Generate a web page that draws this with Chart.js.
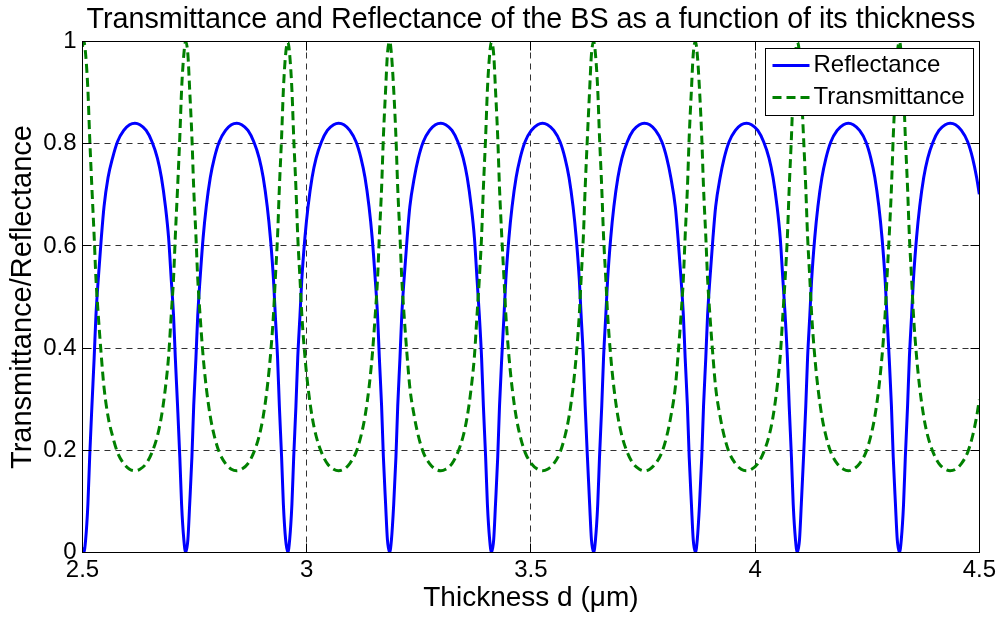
<!DOCTYPE html>
<html>
<head>
<meta charset="utf-8">
<script src="https://cdn.jsdelivr.net/npm/chart.js@4/dist/chart.umd.min.js"></script>
<style>
html,body{margin:0;padding:0;background:#fff;}
#wrap{width:999px;height:617px;}
</style>
</head>
<body>
<div id="wrap"><canvas id="c" width="999" height="617"></canvas></div>
<script>
const chartTitle = 'Transmittance and Reflectance of the BS as a function of its thickness';
const xLabel = 'Thickness d (\u03bcm)';
const yLabel = 'Transmittance/Reflectance';
const seriesNames = ['Reflectance', 'Transmittance'];
const xTicks = [2.5, 3, 3.5, 4, 4.5];
const yTicks = [0, 0.2, 0.4, 0.6, 0.8, 1];

const thickness = [
2.500,
2.503, 2.507, 2.512, 2.516, 2.521, 2.526, 2.530, 2.535, 2.542, 2.548, 2.557, 2.567, 2.578, 2.592, 2.605, 2.617, 2.628, 2.642, 2.655, 2.667, 2.676, 2.685, 2.692, 2.698, 2.703, 2.707, 2.712, 2.717, 2.721, 2.726,
2.730, 2.735, 2.739, 2.744, 2.748, 2.753, 2.757, 2.762, 2.769, 2.776, 2.785, 2.794, 2.805, 2.819, 2.832, 2.844, 2.855, 2.869, 2.882, 2.894, 2.903, 2.912, 2.919, 2.926, 2.930, 2.935, 2.939, 2.944, 2.948, 2.953,
2.958, 2.962, 2.967, 2.971, 2.976, 2.980, 2.985, 2.989, 2.996, 3.003, 3.012, 3.021, 3.033, 3.046, 3.060, 3.071, 3.083, 3.096, 3.110, 3.121, 3.130, 3.139, 3.146, 3.153, 3.158, 3.162, 3.167, 3.171, 3.176, 3.180,
3.185, 3.189, 3.194, 3.199, 3.203, 3.208, 3.212, 3.217, 3.224, 3.230, 3.240, 3.249, 3.260, 3.274, 3.287, 3.299, 3.310, 3.324, 3.337, 3.349, 3.358, 3.367, 3.374, 3.380, 3.385, 3.390, 3.394, 3.399, 3.403, 3.408,
3.412, 3.417, 3.421, 3.426, 3.430, 3.435, 3.440, 3.444, 3.451, 3.458, 3.467, 3.476, 3.487, 3.501, 3.515, 3.526, 3.537, 3.551, 3.565, 3.576, 3.585, 3.594, 3.601, 3.608, 3.612, 3.617, 3.621, 3.626, 3.631, 3.635,
3.640, 3.644, 3.649, 3.653, 3.658, 3.662, 3.667, 3.671, 3.678, 3.685, 3.694, 3.703, 3.715, 3.728, 3.742, 3.753, 3.765, 3.778, 3.792, 3.803, 3.812, 3.822, 3.828, 3.835, 3.840, 3.844, 3.849, 3.853, 3.858, 3.862,
3.867, 3.871, 3.876, 3.881, 3.885, 3.890, 3.894, 3.899, 3.906, 3.912, 3.922, 3.931, 3.942, 3.956, 3.969, 3.981, 3.992, 4.006, 4.019, 4.031, 4.040, 4.049, 4.056, 4.062, 4.067, 4.072, 4.076, 4.081, 4.085, 4.090,
4.094, 4.099, 4.103, 4.108, 4.113, 4.117, 4.122, 4.126, 4.133, 4.140, 4.149, 4.158, 4.169, 4.183, 4.197, 4.208, 4.219, 4.233, 4.247, 4.258, 4.267, 4.276, 4.283, 4.290, 4.294, 4.299, 4.304, 4.308, 4.313, 4.317,
4.322, 4.326, 4.331, 4.335, 4.340, 4.344, 4.349, 4.353, 4.360, 4.367, 4.376, 4.385, 4.397, 4.410, 4.424, 4.435, 4.447, 4.460, 4.474, 4.485, 4.494, 4.500
];

const reflectance = [
0.010,
0.000, 0.025, 0.094, 0.187, 0.287, 0.381, 0.464, 0.533, 0.616, 0.677, 0.734, 0.772, 0.804, 0.826, 0.837, 0.840, 0.837, 0.826, 0.804, 0.772, 0.734, 0.677, 0.616, 0.533, 0.464, 0.381, 0.287, 0.187, 0.094, 0.025,
0.000, 0.025, 0.094, 0.187, 0.287, 0.381, 0.464, 0.533, 0.616, 0.677, 0.734, 0.772, 0.804, 0.826, 0.837, 0.840, 0.837, 0.826, 0.804, 0.772, 0.734, 0.677, 0.616, 0.533, 0.464, 0.381, 0.287, 0.187, 0.094, 0.025,
0.000, 0.025, 0.094, 0.187, 0.287, 0.381, 0.464, 0.533, 0.616, 0.677, 0.734, 0.772, 0.804, 0.826, 0.837, 0.840, 0.837, 0.826, 0.804, 0.772, 0.734, 0.677, 0.616, 0.533, 0.464, 0.381, 0.287, 0.187, 0.094, 0.025,
0.000, 0.025, 0.094, 0.187, 0.287, 0.381, 0.464, 0.533, 0.616, 0.677, 0.734, 0.772, 0.804, 0.826, 0.837, 0.840, 0.837, 0.826, 0.804, 0.772, 0.734, 0.677, 0.616, 0.533, 0.464, 0.381, 0.287, 0.187, 0.094, 0.025,
0.000, 0.025, 0.094, 0.187, 0.287, 0.381, 0.464, 0.533, 0.616, 0.677, 0.734, 0.772, 0.804, 0.826, 0.837, 0.840, 0.837, 0.826, 0.804, 0.772, 0.734, 0.677, 0.616, 0.533, 0.464, 0.381, 0.287, 0.187, 0.094, 0.025,
0.000, 0.025, 0.094, 0.187, 0.287, 0.381, 0.464, 0.533, 0.616, 0.677, 0.734, 0.772, 0.804, 0.826, 0.837, 0.840, 0.837, 0.826, 0.804, 0.772, 0.734, 0.677, 0.616, 0.533, 0.464, 0.381, 0.287, 0.187, 0.094, 0.025,
0.000, 0.025, 0.094, 0.187, 0.287, 0.381, 0.464, 0.533, 0.616, 0.677, 0.734, 0.772, 0.804, 0.826, 0.837, 0.840, 0.837, 0.826, 0.804, 0.772, 0.734, 0.677, 0.616, 0.533, 0.464, 0.381, 0.287, 0.187, 0.094, 0.025,
0.000, 0.025, 0.094, 0.187, 0.287, 0.381, 0.464, 0.533, 0.616, 0.677, 0.734, 0.772, 0.804, 0.826, 0.837, 0.840, 0.837, 0.826, 0.804, 0.772, 0.734, 0.677, 0.616, 0.533, 0.464, 0.381, 0.287, 0.187, 0.094, 0.025,
0.000, 0.025, 0.094, 0.187, 0.287, 0.381, 0.464, 0.533, 0.616, 0.677, 0.734, 0.772, 0.804, 0.826, 0.837, 0.840, 0.837, 0.826, 0.804, 0.772, 0.734, 0.701
];

const transmittance = [
0.990,
1.000, 0.975, 0.906, 0.813, 0.713, 0.619, 0.536, 0.467, 0.384, 0.323, 0.266, 0.228, 0.196, 0.174, 0.163, 0.160, 0.163, 0.174, 0.196, 0.228, 0.266, 0.323, 0.384, 0.467, 0.536, 0.619, 0.713, 0.813, 0.906, 0.975,
1.000, 0.975, 0.906, 0.813, 0.713, 0.619, 0.536, 0.467, 0.384, 0.323, 0.266, 0.228, 0.196, 0.174, 0.163, 0.160, 0.163, 0.174, 0.196, 0.228, 0.266, 0.323, 0.384, 0.467, 0.536, 0.619, 0.713, 0.813, 0.906, 0.975,
1.000, 0.975, 0.906, 0.813, 0.713, 0.619, 0.536, 0.467, 0.384, 0.323, 0.266, 0.228, 0.196, 0.174, 0.163, 0.160, 0.163, 0.174, 0.196, 0.228, 0.266, 0.323, 0.384, 0.467, 0.536, 0.619, 0.713, 0.813, 0.906, 0.975,
1.000, 0.975, 0.906, 0.813, 0.713, 0.619, 0.536, 0.467, 0.384, 0.323, 0.266, 0.228, 0.196, 0.174, 0.163, 0.160, 0.163, 0.174, 0.196, 0.228, 0.266, 0.323, 0.384, 0.467, 0.536, 0.619, 0.713, 0.813, 0.906, 0.975,
1.000, 0.975, 0.906, 0.813, 0.713, 0.619, 0.536, 0.467, 0.384, 0.323, 0.266, 0.228, 0.196, 0.174, 0.163, 0.160, 0.163, 0.174, 0.196, 0.228, 0.266, 0.323, 0.384, 0.467, 0.536, 0.619, 0.713, 0.813, 0.906, 0.975,
1.000, 0.975, 0.906, 0.813, 0.713, 0.619, 0.536, 0.467, 0.384, 0.323, 0.266, 0.228, 0.196, 0.174, 0.163, 0.160, 0.163, 0.174, 0.196, 0.228, 0.266, 0.323, 0.384, 0.467, 0.536, 0.619, 0.713, 0.813, 0.906, 0.975,
1.000, 0.975, 0.906, 0.813, 0.713, 0.619, 0.536, 0.467, 0.384, 0.323, 0.266, 0.228, 0.196, 0.174, 0.163, 0.160, 0.163, 0.174, 0.196, 0.228, 0.266, 0.323, 0.384, 0.467, 0.536, 0.619, 0.713, 0.813, 0.906, 0.975,
1.000, 0.975, 0.906, 0.813, 0.713, 0.619, 0.536, 0.467, 0.384, 0.323, 0.266, 0.228, 0.196, 0.174, 0.163, 0.160, 0.163, 0.174, 0.196, 0.228, 0.266, 0.323, 0.384, 0.467, 0.536, 0.619, 0.713, 0.813, 0.906, 0.975,
1.000, 0.975, 0.906, 0.813, 0.713, 0.619, 0.536, 0.467, 0.384, 0.323, 0.266, 0.228, 0.196, 0.174, 0.163, 0.160, 0.163, 0.174, 0.196, 0.228, 0.266, 0.299
];

const FONT = "'Liberation Sans', Arial, Helvetica, sans-serif";
const snap = p => Math.round(p - 0.5) + 0.5;

const gridPlugin = {
  id: 'matlabGrid',
  beforeDatasetsDraw(chart) {
    const {ctx, chartArea: a, scales: {x, y}} = chart;
    const L = snap(a.left), R = snap(a.right), T = snap(a.top), B = snap(a.bottom);
    ctx.save();
    ctx.lineWidth = 1;
    ctx.strokeStyle = '#333333';
    ctx.setLineDash([6, 5]);
    ctx.beginPath();
    xTicks.forEach(v => {
      if (v > x.min && v < x.max) {
        const p = snap(x.getPixelForValue(v));
        ctx.moveTo(p, T); ctx.lineTo(p, B);
      }
    });
    yTicks.forEach(v => {
      if (v > y.min && v < y.max) {
        const p = snap(y.getPixelForValue(v));
        ctx.moveTo(L, p); ctx.lineTo(R, p);
      }
    });
    ctx.stroke();
    ctx.restore();
  }
};

const framePlugin = {
  id: 'matlabFrame',
  afterDatasetsDraw(chart) {
    const {ctx, chartArea: a, scales: {x, y}} = chart;
    const L = snap(a.left), R = snap(a.right), T = snap(a.top), B = snap(a.bottom);
    const tl = 9;
    ctx.save();
    ctx.lineWidth = 1;
    ctx.strokeStyle = '#000000';
    ctx.setLineDash([]);
    ctx.beginPath();
    xTicks.forEach(v => {
      const p = snap(x.getPixelForValue(v));
      ctx.moveTo(p, B); ctx.lineTo(p, B - tl);
      ctx.moveTo(p, T); ctx.lineTo(p, T + tl);
    });
    yTicks.forEach(v => {
      const p = snap(y.getPixelForValue(v));
      ctx.moveTo(L, p); ctx.lineTo(L + tl, p);
      ctx.moveTo(R, p); ctx.lineTo(R - tl, p);
    });
    ctx.stroke();
    ctx.strokeRect(L, T, R - L, B - T);

    // legend box
    const ds = chart.data.datasets;
    ctx.font = '24px ' + FONT;
    const textW = Math.max(...ds.map(d => ctx.measureText(d.label).width));
    const padL = 7, lineLen = 37, gap = 4, padR = 9, rowH = 32, padT = 17, padB = 18;
    const w = padL + lineLen + gap + textW + padR;
    const h = padT + rowH * (ds.length - 1) + padB;
    const bx1 = snap(a.right - 5.5);
    const by0 = snap(a.top + 6.5);
    const bx0 = snap(bx1 - w);
    ctx.fillStyle = '#ffffff';
    ctx.fillRect(bx0, by0, bx1 - bx0, h);
    ctx.strokeStyle = '#000000';
    ctx.lineWidth = 1;
    ctx.strokeRect(bx0, by0, bx1 - bx0, h);
    ds.forEach((d, i) => {
      const cy = by0 + padT + i * rowH;
      ctx.save();
      ctx.strokeStyle = d.borderColor;
      ctx.lineWidth = d.borderWidth;
      ctx.setLineDash(d.borderDash || []);
      ctx.beginPath();
      ctx.moveTo(bx0 + padL, cy);
      ctx.lineTo(bx0 + padL + lineLen, cy);
      ctx.stroke();
      ctx.restore();
      ctx.fillStyle = '#000000';
      ctx.textAlign = 'left';
      ctx.textBaseline = 'middle';
      ctx.fillText(d.label, bx0 + padL + lineLen + gap, cy);
    });
    ctx.restore();
  }
};

const toPoints = vals => thickness.map((xv, i) => ({x: xv, y: vals[i]}));

new Chart(document.getElementById('c'), {
  type: 'line',
  data: {
    datasets: [
      {
        label: seriesNames[0],
        data: toPoints(reflectance),
        borderColor: '#0000ff',
        borderWidth: 3,
        pointRadius: 0,
        fill: false,
        cubicInterpolationMode: 'monotone',
        order: 1
      },
      {
        label: seriesNames[1],
        data: toPoints(transmittance),
        borderColor: '#008000',
        borderWidth: 3,
        borderDash: [9, 5],
        pointRadius: 0,
        fill: false,
        cubicInterpolationMode: 'monotone',
        order: 0
      }
    ]
  },
  options: {
    responsive: false,
    animation: false,
    devicePixelRatio: 1,
    layout: {padding: {top: 0, right: 18.5, bottom: 0, left: 0}},
    plugins: {
      legend: {display: false},
      tooltip: {enabled: false},
      title: {
        display: true,
        text: chartTitle,
        fullSize: false,
        color: '#000000',
        font: {family: FONT, size: 28.7, weight: 'normal', lineHeight: 1.2},
        padding: {top: 2.4, bottom: 4.7}
      }
    },
    scales: {
      x: {
        type: 'linear',
        min: 2.5,
        max: 4.5,
        afterBuildTicks: s => { s.ticks = xTicks.map(v => ({value: v})); },
        ticks: {
          callback: v => String(v),
          color: '#000000',
          font: {family: FONT, size: 24, lineHeight: 1.2},
          padding: 3,
          maxRotation: 0,
          autoSkip: false
        },
        grid: {display: false, drawTicks: false},
        border: {display: false},
        title: {
          display: true,
          text: xLabel,
          color: '#000000',
          font: {family: FONT, size: 28, lineHeight: 1.2},
          padding: {top: 0, bottom: 1.6}
        },
        afterFit: s => { s.height = 64.5; }
      },
      y: {
        type: 'linear',
        min: 0,
        max: 1,
        afterBuildTicks: s => { s.ticks = yTicks.map(v => ({value: v})); },
        ticks: {
          callback: v => String(v),
          color: '#000000',
          font: {family: FONT, size: 24, lineHeight: 1.2},
          padding: 6,
          autoSkip: false
        },
        grid: {display: false, drawTicks: false},
        border: {display: false},
        title: {
          display: true,
          text: yLabel,
          color: '#000000',
          font: {family: FONT, size: 29, lineHeight: 1.2},
          padding: {top: 5.9, bottom: 0}
        },
        afterFit: s => { s.width = 82.5; }
      }
    }
  },
  plugins: [gridPlugin, framePlugin]
});
</script>
</body>
</html>
